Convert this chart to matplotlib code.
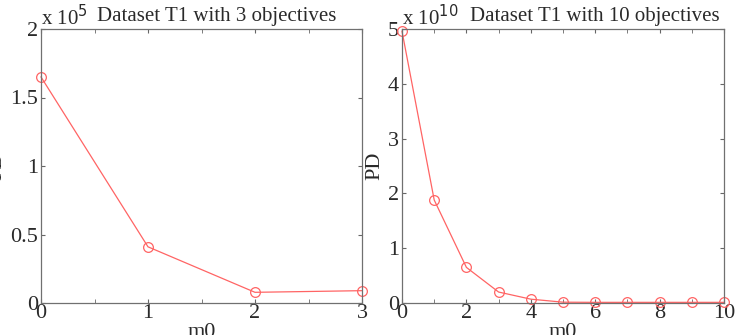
import matplotlib.pyplot as plt
from matplotlib.ticker import MultipleLocator

plt.rcParams['font.family'] = ['Liberation Serif', 'DejaVu Serif']

# left panel: 3 objectives (values x 1e5)
m0_3 = [0, 1, 2, 3]
pd_3 = [1.65, 0.41, 0.078, 0.09]

# right panel: 10 objectives (values x 1e10)
m0_10 = [0, 1, 2, 3, 4, 5, 6, 7, 8, 9, 10]
pd_10 = [4.96, 1.88, 0.65, 0.2, 0.07, 0.015, 0.012, 0.012, 0.012, 0.012, 0.012]

red = '#ff6464'
txt = '#2a2a2a'

fig = plt.figure(figsize=(7.38, 3.35), dpi=100)
ax1 = fig.add_axes([41 / 738, 1 - 303 / 335, 321 / 738, 274 / 335])
ax2 = fig.add_axes([402 / 738, 1 - 303 / 335, 322 / 738, 274 / 335])

for ax in (ax1, ax2):
    ax.tick_params(direction='in', length=3, which='both', top=True, right=True,
                   labelsize=16, colors=txt, pad=2)
    ax.tick_params(axis='x', pad=1)
    ax.tick_params(which='both', color='#666666')
    for s in ax.spines.values():
        s.set_color('#707070')
        s.set_linewidth(0.9)
    ax.set_ylabel('PD', fontsize=16, color=txt, labelpad=3)
    ax.set_xlabel('m0', fontsize=16, color=txt, labelpad=0)

# left plot
ax1.plot(m0_3, pd_3, '-o', color=red, lw=0.9, mfc='none', mec=red, ms=7, mew=0.9, clip_on=False)
ax1.set_xlim(0, 3)
ax1.set_ylim(0, 2)
ax1.xaxis.set_major_locator(MultipleLocator(1))
ax1.xaxis.set_minor_locator(MultipleLocator(0.5))
ax1.yaxis.set_major_locator(MultipleLocator(0.5))
ax1.yaxis.set_major_formatter(plt.FuncFormatter(lambda v, p: '%g' % v))
ax1.text(0.0, 1.013, r'x 10$^{5}$', transform=ax1.transAxes, fontsize=15,
         color=txt, ha='left', va='baseline')
ax1.text(0.547, 1.03, 'Dataset T1 with 3 objectives', transform=ax1.transAxes,
         fontsize=15, color=txt, ha='center', va='baseline')

# right plot
ax2.plot(m0_10, pd_10, '-o', color=red, lw=0.9, mfc='none', mec=red, ms=7, mew=0.9, clip_on=False)
ax2.set_xlim(0, 10)
ax2.set_ylim(0, 5)
ax2.xaxis.set_major_locator(MultipleLocator(2))
ax2.xaxis.set_minor_locator(MultipleLocator(1))
ax2.yaxis.set_major_locator(MultipleLocator(1))
ax2.text(0.0, 1.013, r'x 10$^{10}$', transform=ax2.transAxes, fontsize=15,
         color=txt, ha='left', va='baseline')
ax2.text(0.6, 1.03, 'Dataset T1 with 10 objectives', transform=ax2.transAxes,
         fontsize=15, color=txt, ha='center', va='baseline')

fig.savefig('out.png', dpi=100)
